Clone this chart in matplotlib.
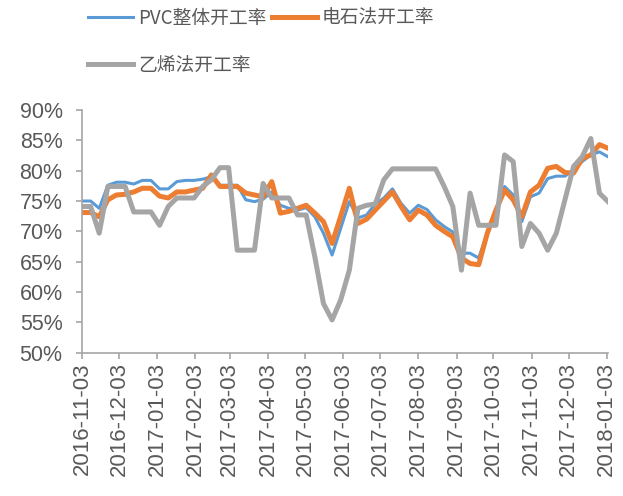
import matplotlib

matplotlib.use("Agg")
import numpy as np
import pandas as pd
import matplotlib.dates as mdates
from matplotlib import pyplot as plt
from matplotlib.ticker import FuncFormatter

# weekly operating rates (%), 2016-11-03 onwards
dates = pd.date_range("2016-11-03", periods=62, freq="7D")

pvc_total = [
    75.0, 75.0, 73.8, 77.6, 78.1, 78.1, 77.8, 78.4, 78.4, 77.0,
    77.0, 78.2, 78.4, 78.4, 78.6, 79.0, 77.6, 77.6, 77.6, 75.2,
    74.9, 75.3, 76.5, 74.3, 73.8, 73.5, 73.9, 72.4, 69.7, 66.1,
    70.5, 74.9, 72.2, 72.7, 74.5, 75.5, 77.0, 74.6, 73.0, 74.3,
    73.6, 71.9, 70.8, 69.9, 66.4, 66.4, 65.6, 69.7, 73.5, 77.4,
    76.0, 71.6, 75.7, 76.3, 78.7, 79.1, 79.1, 80.1, 81.5, 82.6,
    83.1, 82.3,
]
carbide = [
    73.1, 73.1, 72.4, 75.2, 76.0, 76.1, 76.5, 77.1, 77.1, 75.8,
    75.5, 76.5, 76.5, 76.8, 77.1, 79.3, 77.4, 77.4, 77.4, 76.3,
    76.0, 75.7, 78.2, 73.0, 73.3, 73.8, 74.3, 73.0, 71.6, 68.0,
    72.5, 77.1, 71.3, 72.0, 73.5, 75.0, 76.5, 74.1, 71.9, 73.5,
    72.7, 71.0, 70.0, 69.1, 65.6, 64.7, 64.5, 69.7, 73.5, 76.8,
    75.2, 72.4, 76.5, 77.6, 80.4, 80.7, 79.7, 79.6, 82.0, 82.6,
    84.3, 83.7,
]
ethylene = [
    74.1, 74.1, 69.7, 77.4, 77.4, 77.4, 73.2, 73.2, 73.2, 71.0,
    74.1, 75.5, 75.5, 75.5, 77.4, 78.5, 80.5, 80.5, 66.9, 66.9,
    66.9, 77.9, 75.5, 75.5, 75.5, 72.7, 72.7, 65.8, 58.1, 55.4,
    58.7, 63.6, 73.8, 74.3, 74.5, 78.5, 80.3, 80.3, 80.3, 80.3,
    80.3, 80.3, 77.4, 74.1, 63.6, 76.3, 71.0, 71.0, 71.0, 82.6,
    81.5, 67.5, 71.3, 69.7, 66.9, 69.7, 75.2, 80.7, 82.3, 85.3,
    76.3, 74.9,
]
labels = ["PVC整体开工率", "电石法开工率", "乙烯法开工率"]

tick_font = "Liberation Sans"
label_color = "#595959"
axis_color = "#a6a6a6"

fig = plt.figure(figsize=(6.23, 4.96), dpi=100)
ax = fig.add_axes([0.1316, 0.2889, 0.8444, 0.4893])

l_pvc, = ax.plot(dates, pvc_total, color="#5b9bd5", linewidth=2.2, label=labels[0])
l_carb, = ax.plot(dates, carbide, color="#ed7d31", linewidth=3.6, label=labels[1])
l_eth, = ax.plot(dates, ethylene, color="#a5a5a5", linewidth=3.6, label=labels[2])

ax.set_ylim(50, 90)
ax.set_yticks(np.arange(50, 91, 5))
ax.yaxis.set_major_formatter(FuncFormatter(lambda v, _: f"{v:.0f}%"))

ax.set_xlim(dates[0], dates[-1])
ax.xaxis.set_major_locator(mdates.MonthLocator(bymonthday=3))
ax.xaxis.set_major_formatter(mdates.DateFormatter("%Y-%m-%d"))

for side in ("top", "right"):
    ax.spines[side].set_visible(False)
for side in ("left", "bottom"):
    ax.spines[side].set_color(axis_color)
    ax.spines[side].set_linewidth(1.2)

ax.tick_params(axis="both", direction="out", length=4, width=1.2, color=axis_color,
               labelcolor=label_color, labelsize=15.5)
ax.tick_params(axis="y", pad=10)
ax.tick_params(axis="x", labelsize=16, pad=3)
for lab in ax.get_xticklabels() + ax.get_yticklabels():
    lab.set_fontfamily(tick_font)
for lab in ax.get_xticklabels():
    lab.set_rotation(90)

# legend fills column-wise, so order handles to get two entries on the first row
leg = fig.legend(
    [l_pvc, l_eth, l_carb],
    [labels[0], labels[2], labels[1]],
    loc="upper left",
    bbox_to_anchor=(0.13, 1.0),
    ncol=2,
    frameon=False,
    prop={"family": ["Noto Sans CJK SC", "DejaVu Sans"], "size": 13.5},
    handlelength=2.4,
    handletextpad=0.25,
    columnspacing=0.3,
    labelspacing=1.4,
    borderaxespad=0.0,
)
for txt in leg.get_texts():
    txt.set_color(label_color)

fig.savefig("out.png", dpi=100)
